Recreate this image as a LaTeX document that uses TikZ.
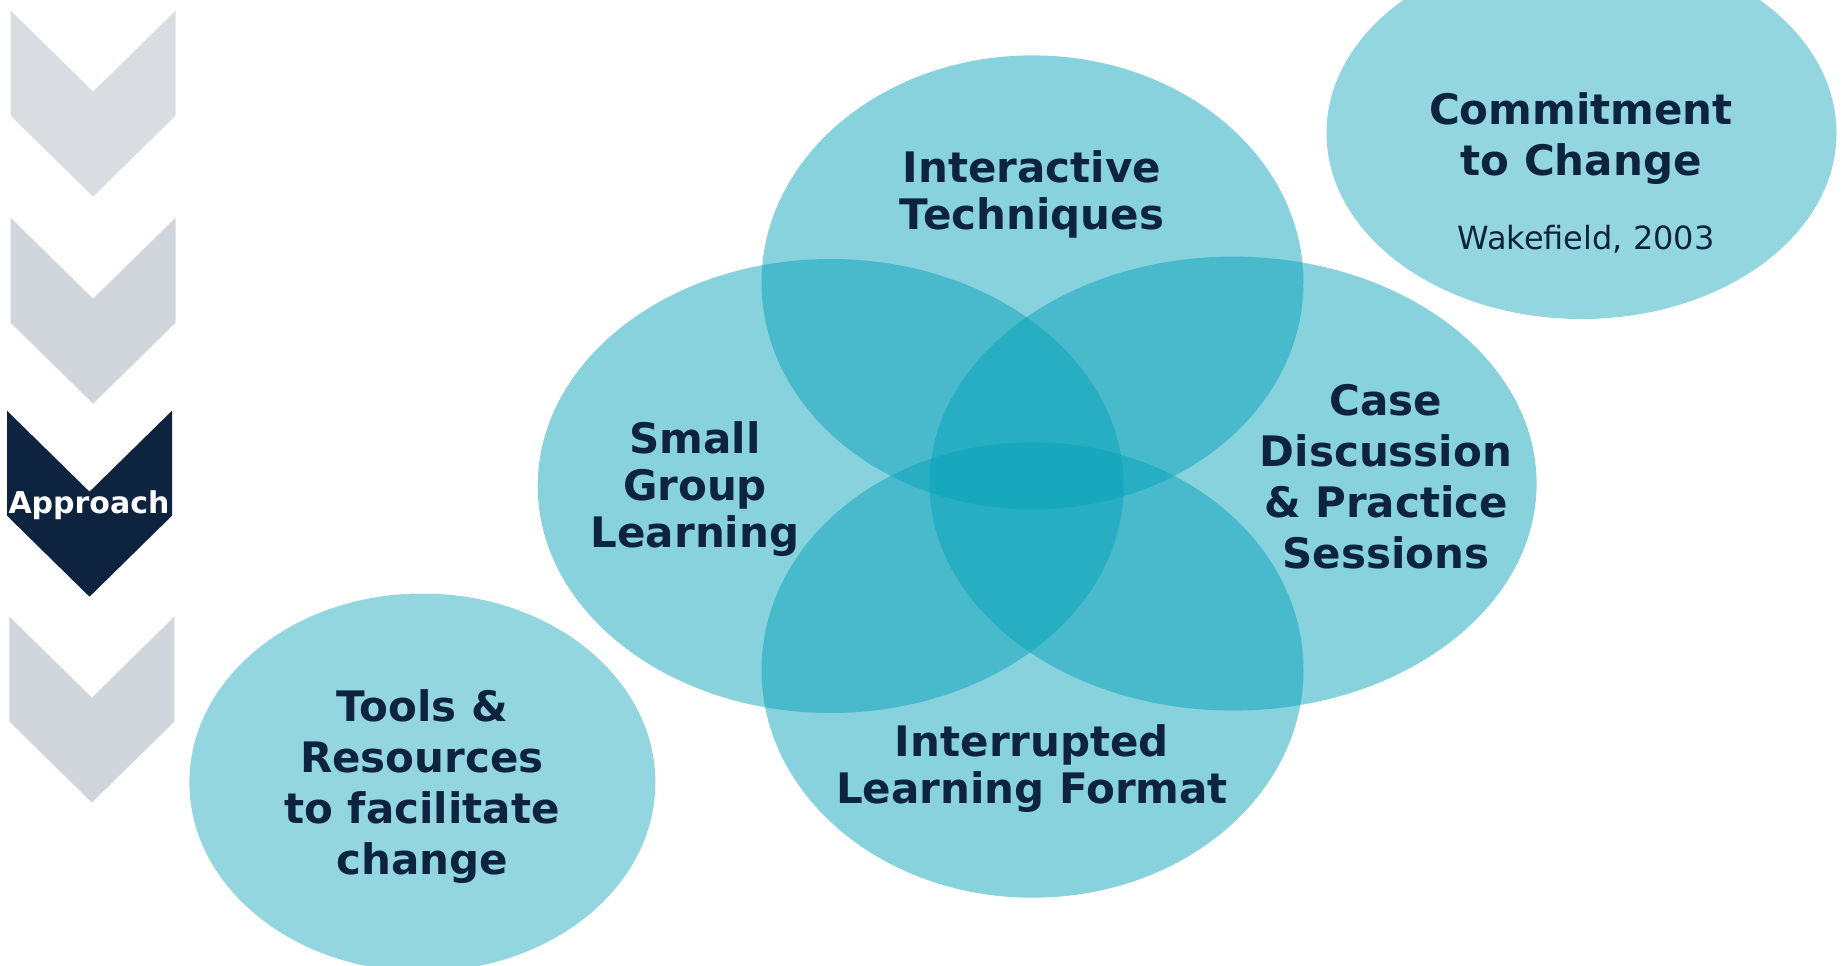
\documentclass[tikz,border=0pt]{standalone}
\usepackage{fontspec}
\setmainfont{DejaVu Sans}
\usetikzlibrary{positioning}
\definecolor{navy}{HTML}{0E2340}
\definecolor{venncyan}{RGB}{4,161,184}
\definecolor{chevlight}{HTML}{D9DCE1}
\definecolor{chevgray}{HTML}{D1D5DC}
\tikzset {
  % overlapping ellipses of the approach
  venn/.style = {fill=venncyan, fill opacity=0.48},
  % the two ellipses at the side
  aside/.style = {fill=venncyan, fill opacity=0.43},
  % bold dark text in the ellipses
  topic/.style = {text=navy, align=center, font=\bfseries\fontsize{42}{51}\selectfont},
  tight/.style = {font=\bfseries\fontsize{42}{47}\selectfont},
  cite/.style = {text=navy, font=\fontsize{32}{36}\selectfont},
  stage/.style = {text=white, inner sep=0pt, font=\bfseries\fontsize{30}{34}\selectfont},
}

\begin{document}
\begin{tikzpicture}[x=1pt, y=-1pt]
        \useasboundingbox (0,0) rectangle (1845,966);
        \clip (0,0) rectangle (1845,966);

        % chevrons on the left
        \foreach \l/\t/\c in {10.6/10.6/chevlight, 10.6/217.7/chevgray, 7/410.7/navy, 9.4/616.6/chevgray}
          \fill[\c] (\l,\t) -- ++(82.5,81) -- ++(82.5,-81) -- ++(0,105)
            -- ++(-82.5,81) -- ++(-82.5,-81) -- cycle;
        \node[stage] (approach) at (89,505) {Approach};

        % side ellipses
        \fill[aside] (1581.5,133) ellipse [x radius=255pt, y radius=186pt];
        \fill[aside] (422.4,782.5) ellipse [x radius=233pt, y radius=189pt];

        % four overlapping ellipses
        \fill[venn] (1032.5,282.4) ellipse [x radius=271pt, y radius=227pt];
        \fill[venn] (830.7,486) ellipse [x radius=293pt, y radius=227pt];
        \fill[venn] (1233,483.6) ellipse [x radius=303.6pt, y radius=227pt];
        \fill[venn] (1032.5,670) ellipse [x radius=271pt, y radius=227.7pt];

        \node[topic, tight] (interactive) at (1032,194) {Interactive\\Techniques};
        \node[topic, tight] (smallgroup) at (695,489) {Small\\Group\\Learning};
        \node[topic] (case) at (1386,477) {Case\\Discussion\\\& Practice\\Sessions};
        \node[topic, tight] (interrupted) at (1032,769) {Interrupted\\Learning Format};

        \node[topic] (commitment) at (1581,139) {Commitment\\to Change};
        \node[cite] (wakefield) at (1586,239) {Wakefield, 2003};
        \node[topic] (tools) at (422,787) {Tools \&\\Resources\\to facilitate\\change};
      \end{tikzpicture}
\end{document}
